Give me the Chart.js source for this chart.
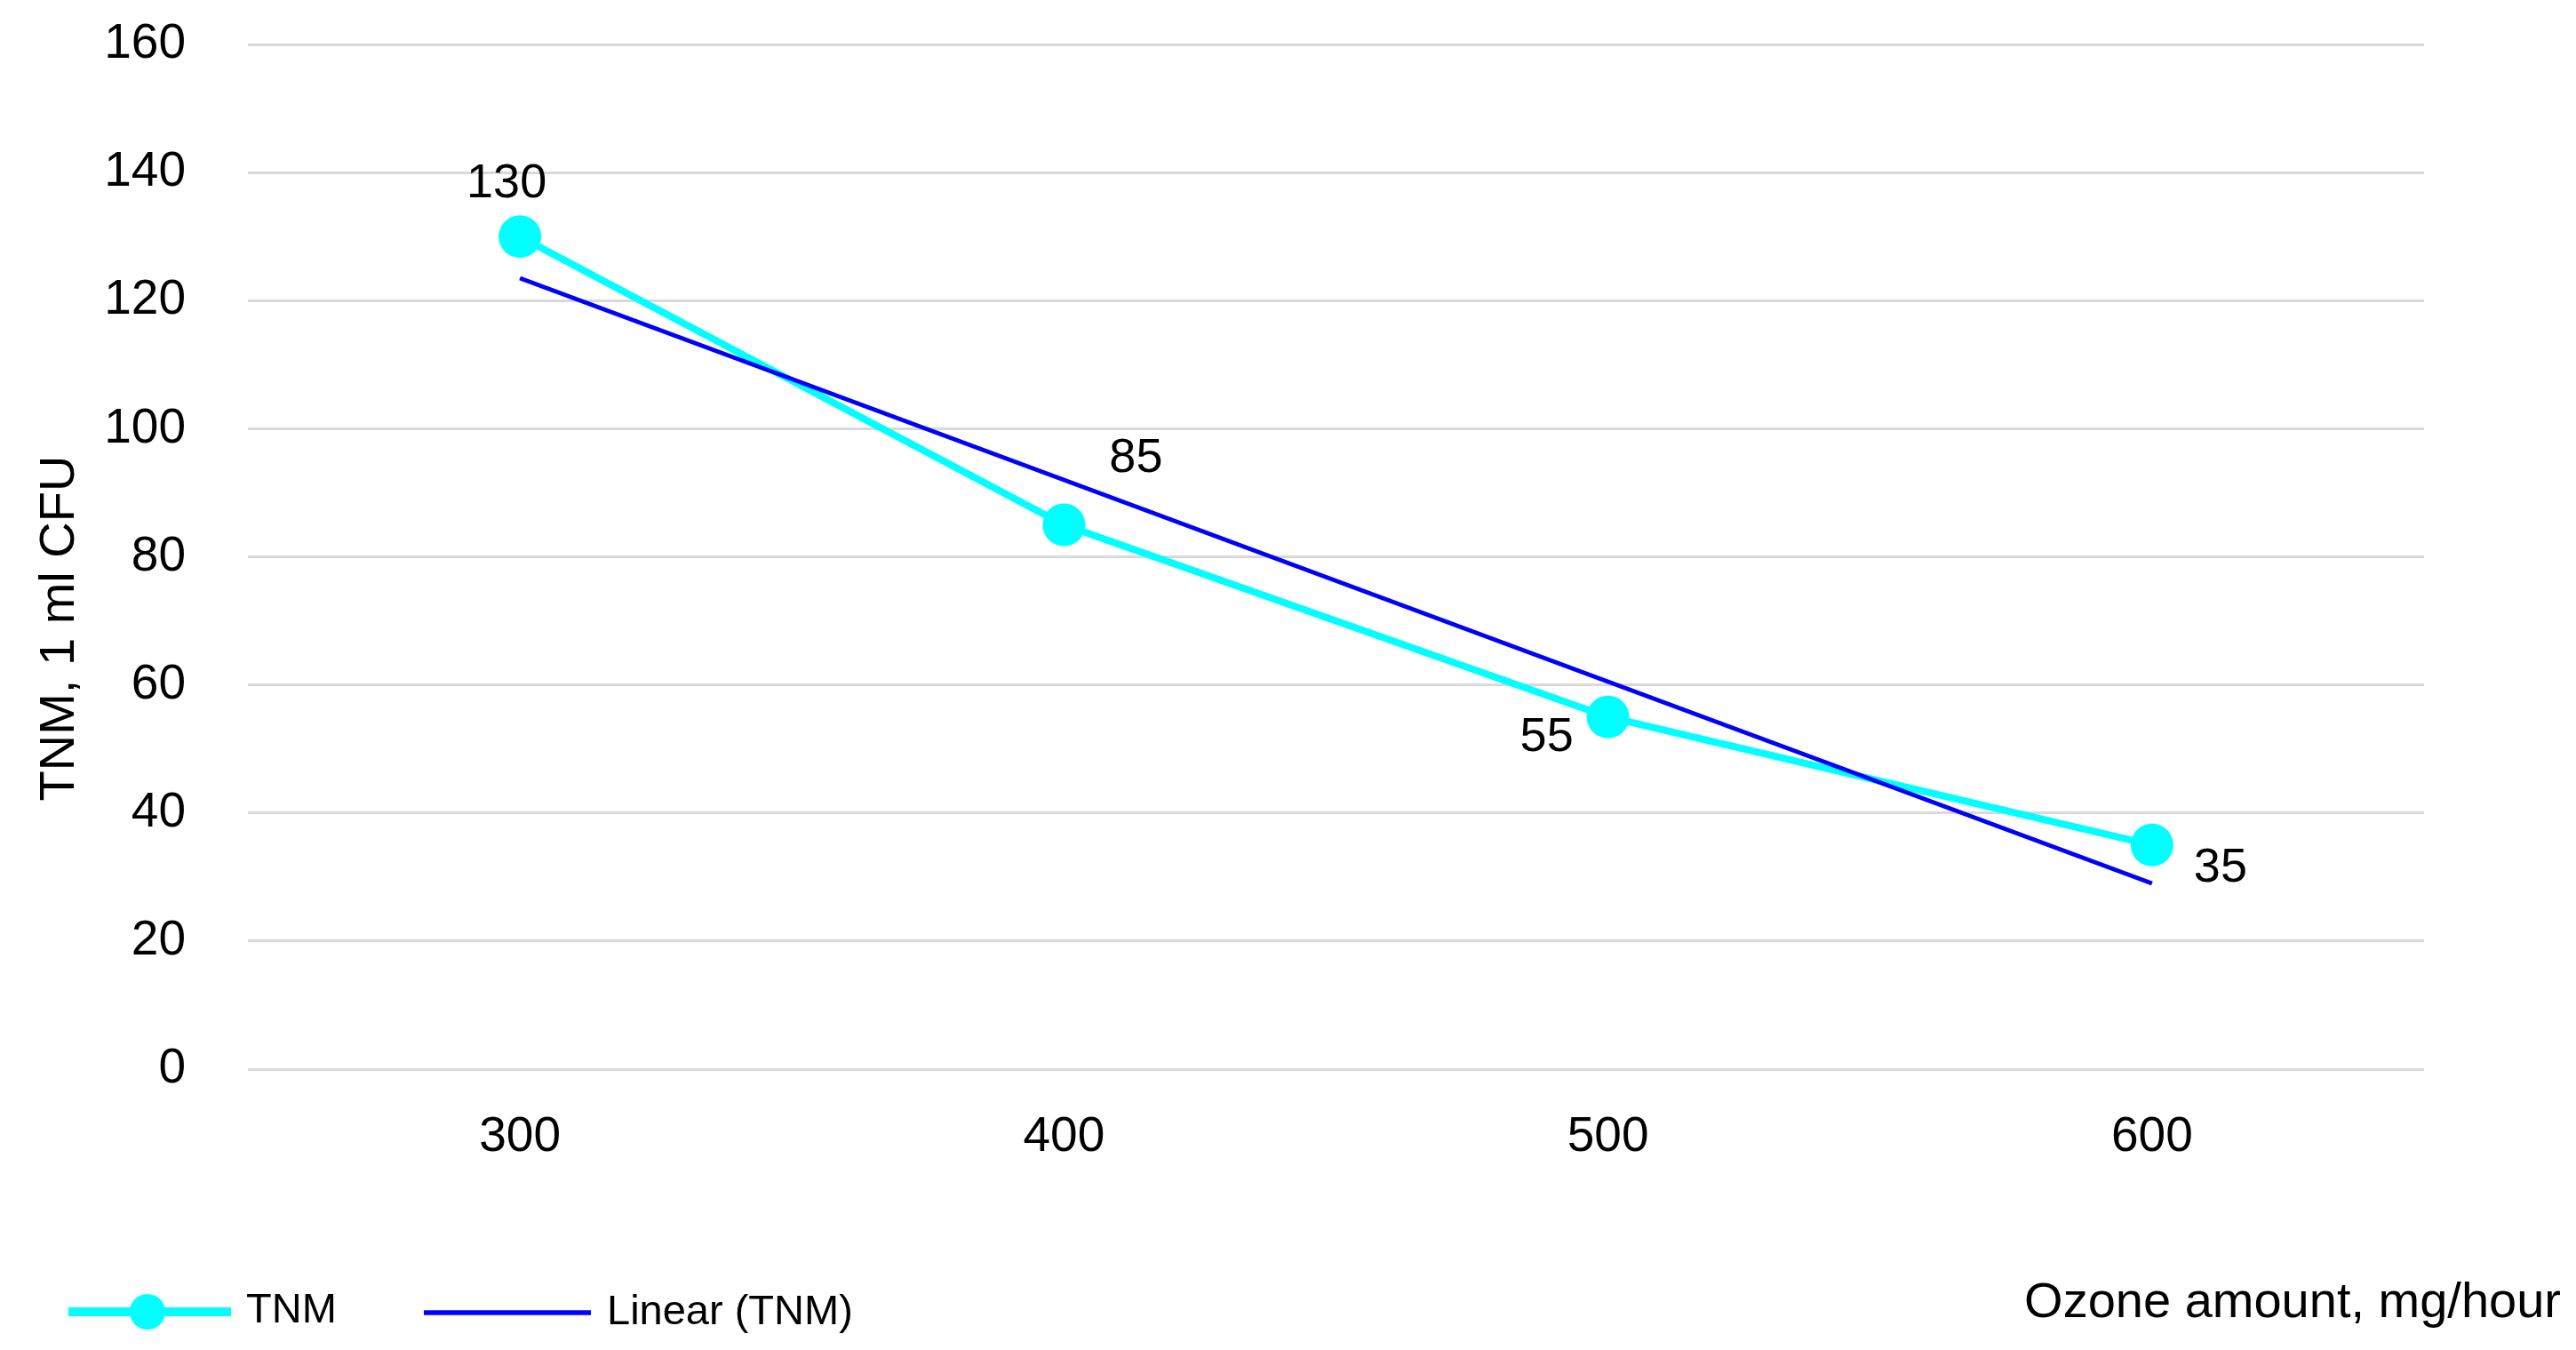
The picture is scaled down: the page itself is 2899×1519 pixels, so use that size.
<!DOCTYPE html>
<html lang="en">
  <head>
    <meta charset="UTF-8" />
    <title>TNM vs ozone amount</title>
    <script src="https://cdn.jsdelivr.net/npm/chart.js@4.4.1/dist/chart.umd.min.js"></script>
    <style>
      html, body { margin: 0; padding: 0; background: #fff; }
      #wrap { width: 2899px; height: 1519px; }
    </style>
  </head>
  <body>
    <div id="wrap"><canvas id="myChart" width="2899" height="1519"></canvas></div>

    <script>
      // data
      const ozone = ["300", "400", "500", "600"];
      const tnm = [130, 85, 55, 35];
      const linearTnm = [123.5, 92, 60.5, 29];
      const yTicks = [0, 20, 40, 60, 80, 100, 120, 140, 160];

      const xTitle = "Ozone amount, mg/hour";
      const yTitle = "TNM, 1 ml CFU";

      const FONT = "'Liberation Sans', Arial, sans-serif";

      // value labels next to the TNM points (pixel offsets from the marker)
      const labelPlugin = {
        id: "pointLabels",
        afterDatasetsDraw(chart, args, opts) {
          const ctx = chart.ctx;
          const meta = chart.getDatasetMeta(0);
          ctx.save();
          ctx.font = "54px " + FONT;
          ctx.fillStyle = "#000";
          ctx.textAlign = "center";
          ctx.textBaseline = "middle";
          meta.data.forEach((pt, i) => {
            const off = opts.offsets[i];
            ctx.fillText(String(tnm[i]), pt.x + off[0], pt.y + off[1]);
          });
          ctx.restore();
        }
      };

      // axis titles + bottom legend, placed like the original
      const extrasPlugin = {
        id: "extras",
        afterDraw(chart) {
          const ctx = chart.ctx;
          const ds = chart.data.datasets;
          ctx.save();
          ctx.fillStyle = "#000";

          // y title
          ctx.font = "56px " + FONT;
          ctx.save();
          ctx.translate(83, 707);
          ctx.rotate(-Math.PI / 2);
          ctx.textAlign = "center";
          ctx.textBaseline = "alphabetic";
          ctx.fillText(yTitle, 0, 0);
          ctx.restore();

          // x title, bottom right
          ctx.textAlign = "right";
          ctx.textBaseline = "alphabetic";
          ctx.fillText(xTitle, 2882, 1482);

          // legend: TNM
          ctx.strokeStyle = ds[0].borderColor;
          ctx.lineWidth = 10;
          ctx.beginPath();
          ctx.moveTo(77, 1476);
          ctx.lineTo(260, 1476);
          ctx.stroke();
          ctx.fillStyle = ds[0].borderColor;
          ctx.beginPath();
          ctx.arc(166, 1476, 20, 0, Math.PI * 2);
          ctx.fill();

          // legend: trend line
          ctx.strokeStyle = ds[1].borderColor;
          ctx.lineWidth = 5.5;
          ctx.beginPath();
          ctx.moveTo(477, 1477);
          ctx.lineTo(665, 1477);
          ctx.stroke();

          ctx.fillStyle = "#000";
          ctx.font = "47px " + FONT;
          ctx.textAlign = "left";
          ctx.fillText(ds[0].label, 277, 1488);
          ctx.fillText(ds[1].label, 683, 1490);
          ctx.restore();
        }
      };

      const myChart = document.getElementById("myChart").getContext("2d");
      const chart = new Chart(myChart, {
        type: "line",
        data: {
          labels: ozone,
          datasets: [
            {
              label: "TNM",
              data: tnm,
              borderColor: "#00ffff",
              backgroundColor: "#00ffff",
              borderWidth: 8,
              pointRadius: 24,
              pointHoverRadius: 24,
              pointBorderWidth: 0,
              pointBackgroundColor: "#00ffff",
              tension: 0,
              order: 1
            },
            {
              label: "Linear (TNM)",
              data: linearTnm,
              borderColor: "#0000ff",
              backgroundColor: "#0000ff",
              borderWidth: 5,
              pointRadius: 0,
              pointHoverRadius: 0,
              tension: 0,
              order: 0
            }
          ]
        },
        options: {
          responsive: false,
          devicePixelRatio: 1,
          animation: false,
          events: [],
          layout: { padding: { left: 0, right: 171, top: 50, bottom: 0 } },
          plugins: {
            legend: { display: false },
            tooltip: { enabled: false },
            pointLabels: {
              offsets: [[-15, -59], [81, -74], [-69, 23], [77, 26]]
            }
          },
          scales: {
            x: {
              offset: true,
              grid: { display: false, drawTicks: false },
              border: { display: false },
              ticks: {
                color: "#000",
                padding: 44,
                font: { family: FONT, size: 55 }
              },
              afterFit(scale) {
                scale.height = 316;
                scale.paddingLeft = 0;
                scale.paddingRight = 0;
              }
            },
            y: {
              min: 0,
              max: 160,
              afterBuildTicks(scale) {
                scale.ticks = yTicks.map(v => ({ value: v }));
              },
              grid: { color: "#d9d9d9", lineWidth: 3, drawTicks: false },
              border: { display: false },
              ticks: {
                color: "#000",
                padding: 70,
                font: { family: FONT, size: 55 }
              },
              afterFit(scale) {
                scale.width = 279;
                scale.paddingTop = 0;
                scale.paddingBottom = 0;
              }
            }
          }
        },
        plugins: [labelPlugin, extrasPlugin]
      });
    </script>
  </body>
</html>
